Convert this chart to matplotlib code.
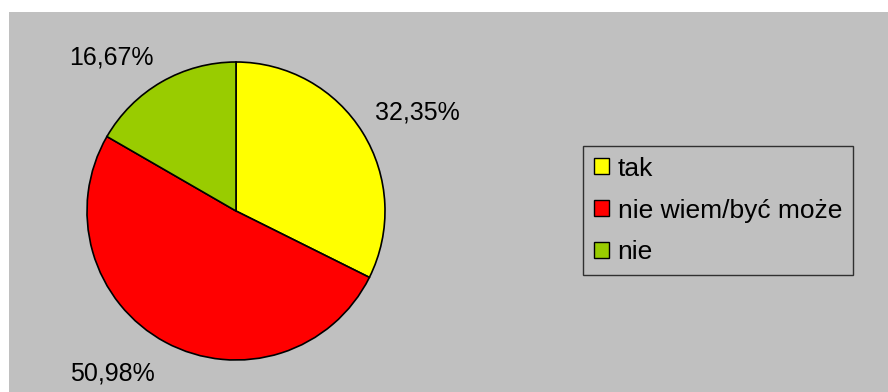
import numpy as np
import matplotlib.pyplot as plt
from matplotlib.patches import Patch, Rectangle

plt.rcParams['font.family'] = ['Liberation Sans', 'DejaVu Sans']

categories = ['tak', 'nie wiem/być może', 'nie']
values = [32.35, 50.98, 16.67]
labels = ['32,35%', '50,98%', '16,67%']
colors = ['#FFFF00', '#FF0000', '#99CC00']

W, H = 888, 392
fig = plt.figure(figsize=(W / 100, H / 100), dpi=100)
fig.patch.set_facecolor('white')
fig.patches.append(Rectangle((9 / W, 0), 1 - 9 / W, (H - 12) / H,
                             transform=fig.transFigure, facecolor='#C0C0C0',
                             edgecolor='none', zorder=-5))

ax = fig.add_axes([0, 0, 1, 1])
ax.set_facecolor('none')
cx, cy, r = 236, H - 211, 149
wedges, _ = ax.pie(values, colors=colors, startangle=90, counterclock=False,
                   center=(cx, cy), radius=r,
                   wedgeprops=dict(edgecolor='black', linewidth=1.2))

# percentage labels placed just outside each wedge
for w, lab in zip(wedges, labels):
    mid = np.deg2rad((w.theta1 + w.theta2) / 2)
    d = 1.1 if np.sin(mid) > 0 else 1.15
    x = cx + d * r * np.cos(mid)
    y = cy + d * r * np.sin(mid)
    ha = 'left' if np.cos(mid) > 0 else 'right'
    va = 'bottom' if np.sin(mid) > 0 else 'top'
    ax.text(x, y, lab, ha=ha, va=va, fontsize=18, color='black')

ax.set_xlim(0, W)
ax.set_ylim(0, H)
ax.set_aspect('equal')
ax.axis('off')

handles = [Patch(facecolor=c, edgecolor='black', linewidth=1) for c in colors]
leg = ax.legend(handles, categories, loc='upper left',
                bbox_to_anchor=(583, H - 146), bbox_transform=ax.transData,
                fontsize=19, handlelength=0.57, handleheight=0.57,
                handletextpad=0.34, labelspacing=0.68, borderpad=0.4,
                borderaxespad=0, fancybox=False, framealpha=1,
                facecolor='#C0C0C0', edgecolor='#303030')
leg.get_frame().set_linewidth(1)

fig.savefig('out.png', dpi=100)
